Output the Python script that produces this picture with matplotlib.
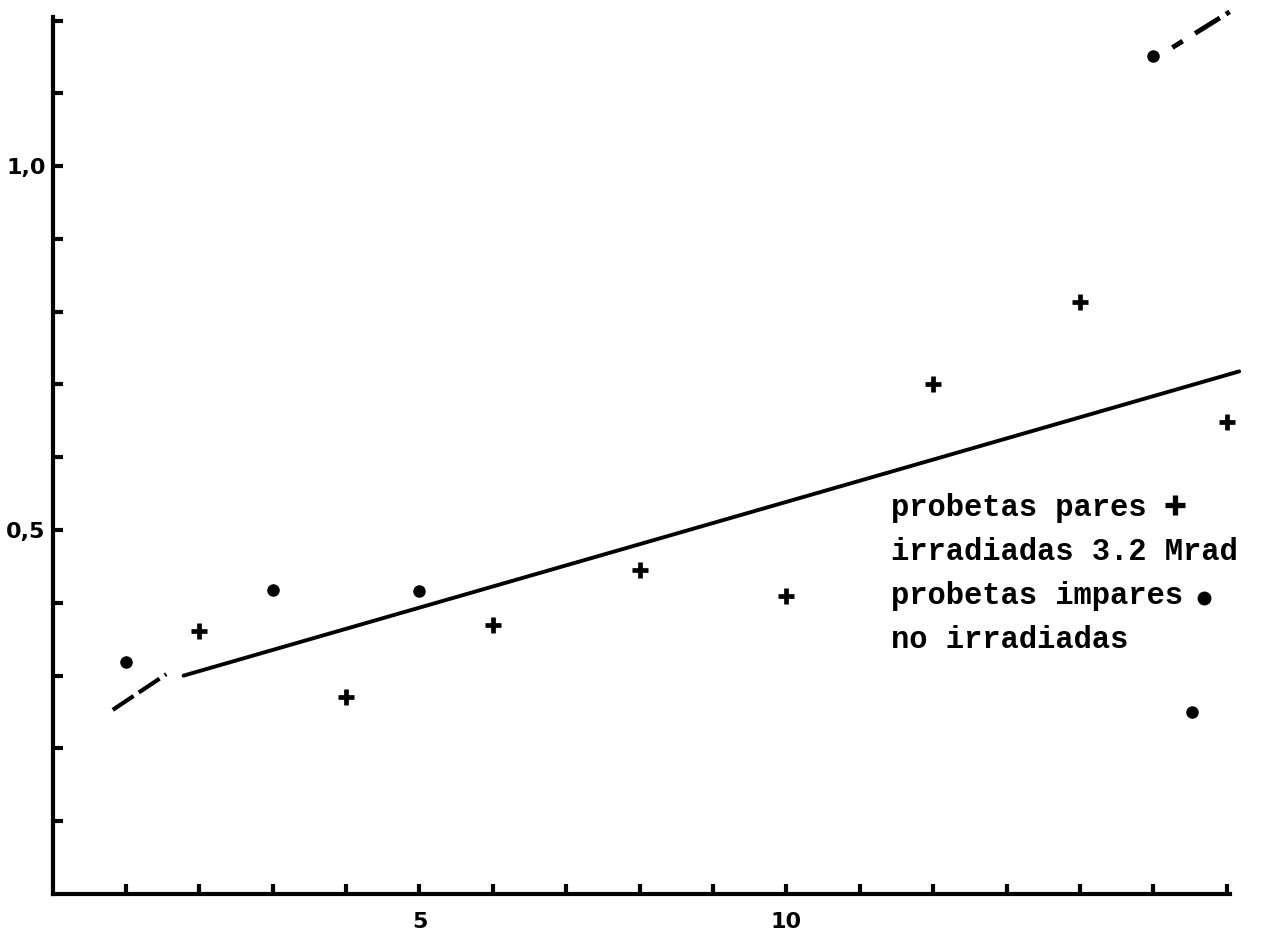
import matplotlib
matplotlib.use("Agg")
import matplotlib.pyplot as plt

# probetas pares (irradiadas 3.2 Mrad)
even_x = [2, 4, 6, 8, 10, 12, 14, 16]
even_y = [0.361, 0.271, 0.370, 0.445, 0.409, 0.700, 0.813, 0.648]

# probetas impares (no irradiadas)
odd_x = [1, 3, 5, 15, 15.53]
odd_y = [0.319, 0.418, 0.416, 1.151, 0.250]

# trend line and the dashed pieces drawn by hand
fit_x = [1.785, 16.17]
fit_y = [0.300, 0.718]
low_dash_x = [0.82, 1.55]
low_dash_y = [0.253, 0.302]
top_dash_x = [15.26, 16.04]
top_dash_y = [1.163, 1.212]

legend_lines = ["probetas pares", "irradiadas 3.2 Mrad",
                "probetas impares", "no irradiadas"]
key_x = [15.29, 15.69]
key_y = [0.534, 0.407]

x_ticks = list(range(1, 17))
x_labels = {5: "5", 10: "10"}
y_ticks = [round(0.1 * i, 1) for i in range(1, 13)]
y_labels = {0.5: "0,5", 1.0: "1,0"}


def main():
    fig = plt.figure(figsize=(12.61, 9.36), dpi=100)
    ax = fig.add_axes([0.0417, 0.0449, 0.934, 0.937])
    ax.set_xlim(0, 16.05)
    ax.set_ylim(0, 1.205)

    for side in ["top", "right"]:
        ax.spines[side].set_visible(False)
    for side in ["left", "bottom"]:
        ax.spines[side].set_linewidth(3)

    ax.set_xticks(x_ticks)
    ax.set_xticklabels([x_labels.get(t, "") for t in x_ticks])
    ax.set_yticks(y_ticks)
    ax.set_yticklabels([y_labels.get(t, "") for t in y_ticks])
    ax.tick_params(direction="in", length=7, width=3, labelsize=16)
    ax.tick_params(axis="x", pad=13)
    ax.tick_params(axis="y", pad=5)
    for lab in ax.get_xticklabels() + ax.get_yticklabels():
        lab.set_fontweight("bold")

    ax.plot(fit_x, fit_y, color="black", lw=2.8, clip_on=False,
            solid_capstyle="round")
    ax.plot(low_dash_x, low_dash_y, color="black", lw=3, dashes=(6, 1.5),
            clip_on=False)
    ax.plot(top_dash_x, top_dash_y, color="black", lw=3.5,
            dashes=(2.5, 3, 6, 1.5, 1, 4, 1.5, 2), clip_on=False)

    ax.plot(even_x, even_y, linestyle="none", marker="+", markersize=12,
            markeredgewidth=3.4, color="black", clip_on=False)
    ax.plot(odd_x, odd_y, linestyle="none", marker="o", markersize=8,
            color="black", clip_on=False)

    # hand-written style legend
    for i, line in enumerate(legend_lines):
        ax.text(11.43, 0.519 - i * 0.0605, line, family="Liberation Mono",
                fontsize=22, fontweight="bold", va="baseline", ha="left",
                color="black")
    ax.plot(key_x[0], key_y[0], marker="+", markersize=14, markeredgewidth=3.8,
            color="black")
    ax.plot(key_x[1], key_y[1], marker="o", markersize=9, color="black")

    fig.savefig("out.png", dpi=100)
    plt.close(fig)


if __name__ == "__main__":
    main()
